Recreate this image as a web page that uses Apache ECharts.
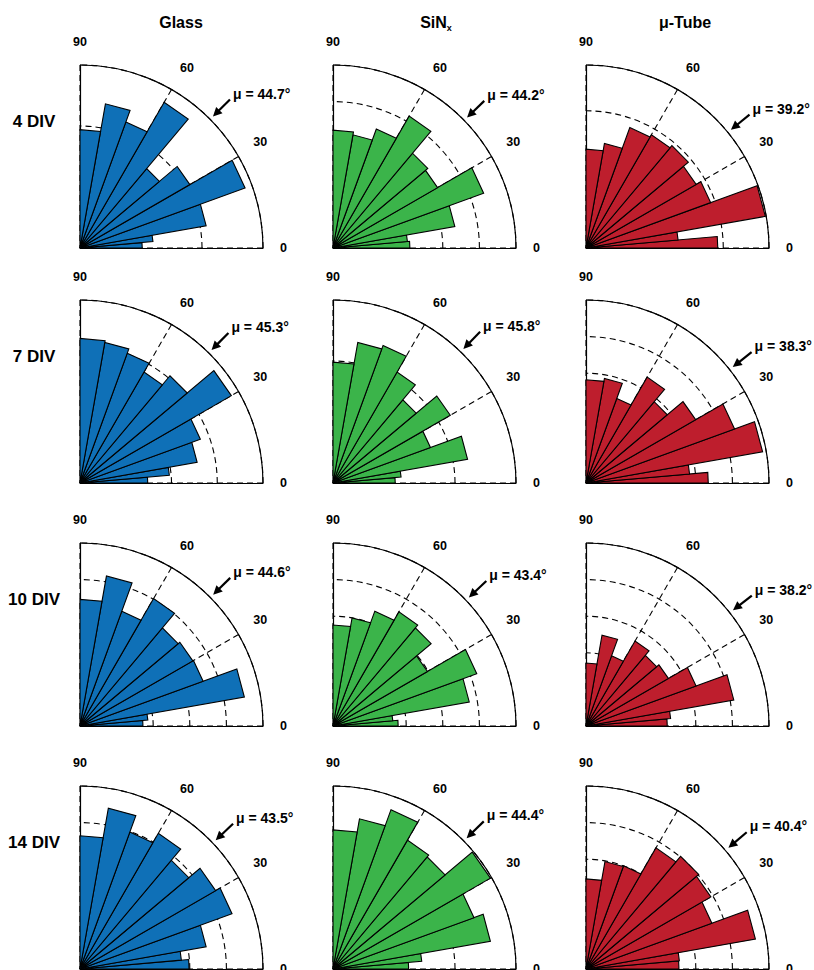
<!DOCTYPE html>
<html><head><meta charset="utf-8">
<script src="https://cdn.jsdelivr.net/npm/echarts@6/dist/echarts.min.js"></script>
<style>html,body{margin:0;padding:0;background:#fff}#c{width:814px;height:970px}</style>
</head><body><div id="c"></div>
<script>
// ---- data ----
const binEdges = [0, 5, 10, 20, 30, 40, 50, 60, 70, 80, 90];
const angleTicks = [0, 30, 60, 90];
const columnNames = ['Glass', 'SiNx', 'μ-Tube'];
const rowNames = ['4 DIV', '7 DIV', '10 DIV', '14 DIV'];

// bar values per bin (0° → 90°), in %
const glass4  = [5.1, 6.0, 10.5, 14.4, 10.4, 8.5, 13.8, 11.0, 12.0, 9.7];
const glass7  = [7.4, 9.8, 13.0, 14.0, 19.1, 15.3, 14.0, 15.1, 15.6, 15.8];
const glass10 = [8.6, 9.3, 22.8, 17.9, 17.8, 17.5, 20.1, 16.7, 20.8, 17.3];
const glass14 = [14.9, 13.9, 17.5, 22.1, 21.4, 19.4, 21.4, 19.9, 22.3, 18.2];

const sinx4  = [10.5, 10.2, 16.9, 21.9, 16.5, 16.9, 20.8, 17.3, 15.7, 16.1];
const sinx7  = [5.1, 5.6, 11.2, 8.5, 11.1, 8.9, 10.5, 12.0, 11.7, 9.9];
const sinx10 = [8.9, 8.2, 18.9, 20.9, 14.9, 17.5, 18.0, 16.7, 15.0, 13.8];
const sinx14 = [6.2, 7.3, 13.1, 12.3, 14.9, 12.0, 12.2, 13.9, 12.5, 11.4];

const tube4  = [14.4, 10.1, 19.9, 14.5, 13.9, 14.6, 14.3, 14.0, 11.6, 10.8];
const tube7  = [16.7, 14.2, 24.5, 21.6, 17.3, 14.5, 16.7, 12.3, 14.5, 14.1];
const tube10 = [11.1, 11.6, 20.5, 16.0, 13.0, 12.6, 13.4, 10.2, 12.6, 8.6];
const tube14 = [12.7, 12.8, 23.5, 18.3, 19.7, 20.1, 19.1, 15.0, 14.9, 12.3];

// mean angles
const muGlass = [44.7, 45.3, 44.6, 43.5];
const muSiNx  = [44.2, 45.8, 43.4, 44.4];
const muTube  = [39.2, 38.3, 38.2, 40.4];

// radial axis maxima (%), grid step
const maxGlass = [15, 20, 25, 25];
const maxSiNx  = [25, 15, 25, 15];
const maxTube  = [20, 25, 25, 25];
const radialStep = 5;

// ---- layout / style ----
const FONT = '"Liberation Sans", Arial, Helvetica, sans-serif';
const colX = [80, 333, 586];
const rowY = [248, 483, 726, 969];
const R = 183;
const colors = ['#0F70B7', '#3BB44A', '#BE1E2D'];

const panels = [
  {col: 0, data: [glass4, glass7, glass10, glass14], mu: muGlass, max: maxGlass},
  {col: 1, data: [sinx4, sinx7, sinx10, sinx14], mu: muSiNx, max: maxSiNx},
  {col: 2, data: [tube4, tube7, tube10, tube14], mu: muTube, max: maxTube}
];

const polar = [], angleAxis = [], radiusAxis = [], series = [];
const dash = {color: '#000', width: 1.1, type: [6, 4]};

panels.forEach(p => {
  for (let r = 0; r < 4; r++) {
    const cx = colX[p.col], cy = rowY[r], m = p.max[r];
    const pi = polar.length;
    polar.push({center: [cx, cy], radius: R});
    angleAxis.push({
      polarIndex: pi, type: 'value', min: 0, max: 90, interval: 30,
      startAngle: 0, endAngle: 90, clockwise: false, z: 1,
      axisLine: {show: true, lineStyle: {color: '#000', width: 1.2}},
      axisTick: {show: false},
      axisLabel: {show: true, margin: 17, color: '#000', fontWeight: 'bold', fontSize: 12.5, fontFamily: FONT,
        formatter: v => angleTicks.indexOf(v) >= 0 ? String(v) : ''},
      splitLine: {show: true, lineStyle: dash}
    });
    radiusAxis.push({
      polarIndex: pi, type: 'value', min: 0, max: m, interval: radialStep, z: 1,
      axisLine: {show: true, lineStyle: {color: '#000', width: 1.2}},
      axisTick: {show: false}, axisLabel: {show: false},
      splitLine: {show: true, lineStyle: dash}
    });
    // helper polar: vertical solid edge at 90°
    const pj = polar.length;
    polar.push({center: [cx, cy], radius: R});
    angleAxis.push({polarIndex: pj, type: 'value', min: 0, max: 90, startAngle: 90, endAngle: 0, clockwise: true, show: false});
    radiusAxis.push({
      polarIndex: pj, type: 'value', min: 0, max: m, z: 2,
      axisLine: {show: true, lineStyle: {color: '#000', width: 1.2}},
      axisTick: {show: false}, axisLabel: {show: false}, splitLine: {show: false}
    });

    const vals = p.data[r];
    const color = colors[p.col];
    series.push({
      type: 'custom', coordinateSystem: 'polar', polarIndex: pi, clip: false, z: 3,
      encode: {radius: 2, angle: 0},
      data: vals.map((v, j) => [binEdges[j], binEdges[j + 1], v]),
      renderItem: (params, api) => {
        const a0 = api.value(0), a1 = api.value(1), v = api.value(2);
        const c = api.coord([0, 0]);
        const p0 = api.coord([v, a0]);
        const p1 = api.coord([v, a1]);
        return {type: 'polygon', shape: {points: [c, p0, p1]},
          style: {fill: color, stroke: '#000', lineWidth: 1.1, lineJoin: 'miter'}};
      }
    });
    series.push({
      type: 'custom', coordinateSystem: 'polar', polarIndex: pi, clip: false, z: 4,
      encode: {radius: 0, angle: 1},
      data: [[0, p.mu[r]]],
      renderItem: (params, api) => {
        const mu = api.value(1);
        const tip = api.coord([m * 1.022, mu]);
        const tail = api.coord([m * 1.153, mu]);
        const dx = tip[0] - tail[0], dy = tip[1] - tail[1];
        const L = Math.hypot(dx, dy), ux = dx / L, uy = dy / L;
        const hl = 9, hw = 4.5;
        const bx = tip[0] - ux * hl, by = tip[1] - uy * hl;
        return {type: 'group', children: [
          {type: 'line', shape: {x1: tail[0], y1: tail[1], x2: bx + ux, y2: by + uy},
            style: {stroke: '#000', lineWidth: 2.2}},
          {type: 'polygon', shape: {points: [tip, [bx - uy * hw, by + ux * hw], [bx + uy * hw, by - ux * hw]]},
            style: {fill: '#000'}},
          {type: 'text', x: tail[0] + 3, y: tail[1] - 6,
            style: {text: 'μ = ' + mu.toFixed(1) + '°', font: 'bold 14px ' + FONT, fill: '#000',
              align: 'left', verticalAlign: 'middle'}}
        ]};
      }
    });
  }
});

const graphic = [];
const colTitleX = [181, 436, 685];
columnNames.forEach((name, i) => {
  const isSiN = name === 'SiNx';
  graphic.push({
    type: 'text', x: colTitleX[i], y: 22,
    style: isSiN ? {
      text: '{a|SiN}{b|x}', align: 'center', verticalAlign: 'middle',
      rich: {a: {font: 'bold 16px ' + FONT, fill: '#000'}, b: {font: 'bold 9px ' + FONT, fill: '#000', padding: [11, 0, 0, 0]}}
    } : {text: name, font: 'bold 16px ' + FONT, fill: '#000', align: 'center', verticalAlign: 'middle'}
  });
});
rowNames.forEach((name, r) => {
  graphic.push({
    type: 'text', x: 34, y: rowY[r] - 127,
    style: {text: name, font: 'bold 17px ' + FONT, fill: '#000', align: 'center', verticalAlign: 'middle'}
  });
});

const chart = echarts.init(document.getElementById('c'), null, {renderer: 'svg', width: 814, height: 970});
chart.setOption({
  backgroundColor: '#fff',
  animation: false,
  polar, angleAxis, radiusAxis, series, graphic
});
</script>
</body></html>
